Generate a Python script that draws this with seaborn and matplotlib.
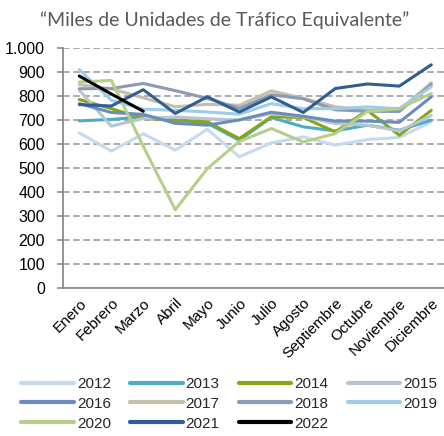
import pandas as pd
import matplotlib
matplotlib.use("Agg")
import matplotlib.pyplot as plt
from matplotlib.lines import Line2D
import seaborn as sns

# Datos (miles de unidades de tráfico equivalente)
meses = ["Enero", "Febrero", "Marzo", "Abril", "Mayo", "Junio", "Julio",
         "Agosto", "Septiembre", "Octubre", "Noviembre", "Diciembre"]

v2012 = [646, 570, 642, 574, 661, 546, 604, 629, 595, 618, 627, 692]
v2013 = [696, 702, 713, 700, 686, 615, 710, 671, 654, 678, 657, 699]
v2014 = [785, 747, 706, 699, 692, 622, 713, 710, 650, 740, 636, 740]
v2015 = [824, 674, 706, 712, 705, 699, 727, 713, 685, 678, 654, 718]
v2016 = [768, 731, 723, 686, 678, 700, 732, 715, 695, 695, 690, 796]
v2017 = [847, 830, 792, 755, 765, 761, 821, 790, 755, 740, 740, 855]
v2018 = [830, 831, 852, 822, 790, 748, 805, 788, 742, 736, 735, 848]
v2019 = [910, 782, 745, 740, 733, 724, 768, 747, 747, 754, 747, 838]
v2020 = [858, 865, 590, 325, 497, 610, 664, 608, 643, 735, 747, 810]
v2021 = [764, 758, 826, 727, 796, 733, 796, 731, 831, 850, 841, 930]
v2022 = [883, 808, 736]

anios = ["2012", "2013", "2014", "2015", "2016", "2017",
         "2018", "2019", "2020", "2021", "2022"]
valores = [v2012, v2013, v2014, v2015, v2016, v2017,
           v2018, v2019, v2020, v2021, v2022]
colores = ["#C6D9F0", "#4BACC6", "#84A51C", "#B9C4D1", "#6A8CBA", "#C4C0AA",
           "#8A9BB5", "#9DCDE8", "#B5CF8A", "#2F5F92", "#000000"]

rows = []
for anio, vals in zip(anios, valores):
    for mes, v in zip(meses, vals):
        rows.append({"mes": mes, "valor": v, "anio": anio})
df = pd.DataFrame(rows)

sns.set_theme(style="white")
plt.rcParams["font.family"] = ["Liberation Sans", "DejaVu Sans"]

W, H = 444, 436
fig = plt.figure(figsize=(W / 100, H / 100), dpi=100)
ax = fig.add_axes([63.3 / W, 1 - 287.7 / H, 384 / W, (287.7 - 48) / H])

palette = dict(zip(anios, colores))
sns.lineplot(data=df, x="mes", y="valor", hue="anio", hue_order=anios,
             palette=palette, linewidth=2.2, sort=False, legend=False,
             estimator=None, ax=ax)

ax.set_xlim(-0.5, 11.5)
ax.set_ylim(0, 1000)
ax.set_xlabel("")
ax.set_ylabel("")

yt = list(range(0, 1001, 100))
ax.set_yticks(yt)
ax.set_yticklabels([f"{v:,}".replace(",", ".") for v in yt], fontsize=11.5)
ax.set_xticks(range(12))
ax.set_xticklabels(meses, fontsize=11, rotation=45, ha="right", va="top",
                   rotation_mode="anchor")
ax.set_xticks([i - 0.5 for i in range(13)], minor=True)
ax.tick_params(axis="x", which="major", length=0, pad=6, colors="#000000")
ax.tick_params(axis="x", which="minor", length=4, width=1.2, color="#8C8C8C")
ax.tick_params(axis="y", which="major", length=4, width=1.2, color="#8C8C8C",
               pad=9, labelcolor="#000000", left=True)

ax.yaxis.grid(True, linestyle=(0, (3.7, 1.9)), color="#A6A6A6", linewidth=1.3)
ax.xaxis.grid(False)
for s in ["top", "right"]:
    ax.spines[s].set_visible(False)
for s in ["left", "bottom"]:
    ax.spines[s].set_color("#8C8C8C")
    ax.spines[s].set_linewidth(1.3)

fig.text(225 / W, 1 - 20 / H, "\u201cMiles de Unidades de Tr\u00e1fico Equivalente\u201d",
         ha="center", va="center", fontsize=14, color="#595959", family="Lato")

# leyenda en filas (orden por columnas para matplotlib)
orden = [0, 4, 8, 1, 5, 9, 2, 6, 10, 3, 7]
handles = [Line2D([], [], color=colores[i], lw=3) for i in orden]
labels = [anios[i] for i in orden]
fig.legend(handles, labels, ncol=4, loc="upper left",
           bbox_to_anchor=(21 / W, 1 - 377 / H), frameon=False,
           fontsize=11, handlelength=3.45, handletextpad=0.2,
           columnspacing=1.25, labelspacing=0.38, borderpad=0,
           borderaxespad=0)

fig.savefig("out.png", dpi=100)
